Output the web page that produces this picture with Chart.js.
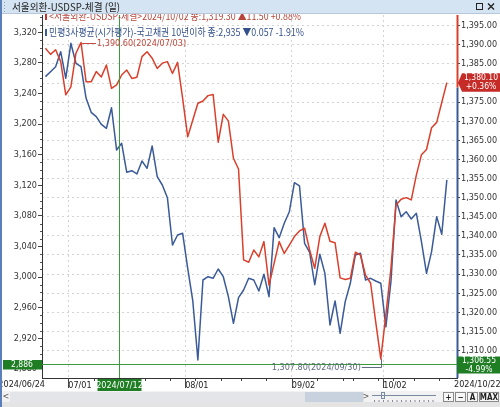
<!DOCTYPE html>
<html><head><meta charset="utf-8">
<script src="https://cdn.jsdelivr.net/npm/chart.js@4.4.1/dist/chart.umd.min.js"></script>
<style>html,body{margin:0;padding:0;background:#fff;overflow:hidden}canvas{display:block}</style>
</head><body>
<canvas id="c" width="500" height="407" style="width:500px;height:407px"></canvas>
<script>
// ---------- data ----------
const dates = ['2024/06/24','2024/06/25','2024/06/26','2024/06/27','2024/06/28',
 '2024/07/01','2024/07/02','2024/07/03','2024/07/04','2024/07/05','2024/07/08','2024/07/09','2024/07/10','2024/07/11','2024/07/12',
 '2024/07/15','2024/07/16','2024/07/17','2024/07/18','2024/07/19','2024/07/22','2024/07/23','2024/07/24','2024/07/25','2024/07/26',
 '2024/07/29','2024/07/30','2024/07/31','2024/08/01','2024/08/02','2024/08/05','2024/08/06','2024/08/07','2024/08/08','2024/08/09',
 '2024/08/12','2024/08/13','2024/08/14','2024/08/16','2024/08/19','2024/08/20','2024/08/21','2024/08/22','2024/08/23',
 '2024/08/26','2024/08/27','2024/08/28','2024/08/29','2024/08/30','2024/09/02','2024/09/03','2024/09/04','2024/09/05','2024/09/06',
 '2024/09/09','2024/09/10','2024/09/11','2024/09/12','2024/09/13','2024/09/19','2024/09/20','2024/09/23','2024/09/24','2024/09/25',
 '2024/09/26','2024/09/27','2024/09/30','2024/10/02','2024/10/04','2024/10/07','2024/10/08','2024/10/10','2024/10/11',
 '2024/10/14','2024/10/15','2024/10/16','2024/10/17','2024/10/18','2024/10/21','2024/10/22'];

const fxValues = [1389.1,1387.5,1388.7,1385.6,1376.9,1379.0,1387.8,1390.6,1380.3,1380.3,
 1383.0,1381.6,1384.7,1378.6,1379.5,1382.1,1383.4,1381.2,1381.5,1386.9,
 1388.2,1386.5,1383.8,1385.2,1385.6,1382.5,1385.4,1376.0,1365.9,1370.3,
 1374.7,1375.3,1376.7,1377.0,1364.5,1371.8,1370.1,1360.3,1357.5,1333.7,
 1333.1,1336.3,1334.5,1338.5,1327.1,1332.8,1338.5,1335.4,1337.6,1339.8,
 1341.3,1342.0,1336.3,1331.5,1339.8,1343.3,1338.6,1338.2,1329.0,1328.6,
 1328.9,1335.7,1335.0,1329.7,1327.6,1317.5,1307.8,1319.3,1331.5,1348.1,
 1349.6,1350.0,1349.4,1355.9,1361.2,1362.6,1368.3,1369.7,1374.9,1380.1];

const bondValues = [3262,3268.5,3275,3294.6,3259.9,3305.6,3279.5,3275,3233.7,3215.4,
 3209.7,3199.7,3194.5,3221.4,3166.1,3174.9,3137,3139.1,3134.8,3151.8,
 3142.2,3171.4,3131.2,3120.4,3103.8,3041.9,3055,3057.2,3011.5,2968.8,
 2891.6,2996.2,3000.5,2998.4,3010.6,3000.5,2974.4,2939.6,2973.1,2983.1,
 2998.4,2996.2,2981.8,3003.7,2974.4,3064.6,3051.5,3070.3,3085.5,3123.4,
 3119.1,3044.2,3032.4,2990,3029.8,3004.9,2937.4,2968.8,2926.5,2967.9,
 2991.9,3028.9,3031.1,2996.2,2998.4,2994.9,2992,2935,2994,3100.8,
 3079,3085.5,3076,3083.4,3046.3,3004.9,3033.2,3079,3056,3127];

const leftTicks = [2880,2920,2960,3000,3040,3080,3120,3160,3200,3240,3280,3320];
const rightTicks = [1310,1315,1320,1325,1330,1335,1340,1345,1350,1355,1360,1365,1370,1375,1380,1385,1390,1395];
const majorDates = ['2024/07/01','2024/08/01','2024/09/02','2024/10/02'];
const crossDate = '2024/07/12';
const crossLeftValue = 2886;
const crossRightLabel = ['1,306.55','-4.99%'];
const lastFxLabel = ['1,380.10','+0.36%'];

const titleText = '서울외환-USDSP-체결 (일)';
const legend1 = '<서울외환-USDSP-체결>2024/10/02 종:1,319.30 ▲11.50 +0.88%';
const legend2 = '민평3사평균(시가평가)-국고채권 10년이하 종:2,935 ▼0.057 -1.91%';

// ---------- fonts ----------
function hasFont(name){
  const c=document.createElement('canvas').getContext('2d');
  const t='0123456789,./abcMWil';
  c.font='40px monospace'; const a=c.measureText(t).width;
  c.font='40px "'+name+'", monospace'; const b=c.measureText(t).width;
  c.font='40px serif'; const a2=c.measureText(t).width;
  c.font='40px "'+name+'", serif'; const b2=c.measureText(t).width;
  return (a!==b)||(a2!==b2);
}
let NARROW='"Liberation Sans"', NSIZE=9;
if(hasFont('Liberation Sans Narrow')){NARROW='"Liberation Sans Narrow"';NSIZE=10;}
else if(hasFont('DejaVu Sans Condensed')){NARROW='"DejaVu Sans Condensed"';NSIZE=9;}
const CJK='"Noto Sans CJK KR","Noto Sans",sans-serif';

const RED='#d9402c', BLUE='#3a5a98', GREEN='#1f7d24', XGREEN='#3b9a3b';

function fitText(c,txt,x,y,w){ c.fillText(txt,x,y,w); }

const deco = {
  id:'deco',
  afterDraw(chart){
    const c=chart.ctx, ca=chart.chartArea, X=chart.scales.x, L=chart.scales.yL, R=chart.scales.yR;
    c.save();
    // minor left ticks
    c.strokeStyle='#555'; c.lineWidth=1;
    for(let k=0;k<leftTicks.length;k++){
      for(let m=1;m<4;m++){
        const v=leftTicks[k]+m*10; if(v>3340) continue;
        const y=Math.round(L.getPixelForValue(v))+0.5;
        c.beginPath(); c.moveTo(ca.left-2,y); c.lineTo(ca.left,y); c.stroke();
      }
    }
    // x major ticks + minor weekly ticks
    c.strokeStyle='#444';
    majorDates.forEach(d=>{
      const x=Math.round(X.getPixelForValue(dates.indexOf(d)-0.5))+0.5;
      c.beginPath(); c.moveTo(x,ca.bottom); c.lineTo(x,ca.bottom+10); c.stroke();
    });
    for(let i=1;i<dates.length;i++){
      const d0=new Date(dates[i-1].replace(/\//g,'-')), d1=new Date(dates[i].replace(/\//g,'-'));
      if(d1.getDay()<=d0.getDay() && majorDates.indexOf(dates[i])<0){
        const x=Math.round(X.getPixelForValue(i-0.5))+0.5;
        c.beginPath(); c.moveTo(x,ca.bottom+1); c.lineTo(x,ca.bottom+3); c.stroke();
      }
    }
    // right axis two-tone line
    const lastIdx=fxValues.length-1;
    const ry=R.getPixelForValue(fxValues[lastIdx]);
    c.lineWidth=2;
    c.strokeStyle=RED; c.beginPath(); c.moveTo(ca.right+0.5,ca.top); c.lineTo(ca.right+0.5,ry+5); c.stroke();
    c.strokeStyle=BLUE; c.beginPath(); c.moveTo(ca.right+0.5,ry+5); c.lineTo(ca.right+0.5,ca.bottom); c.stroke();

    // crosshair
    const cx=Math.round(X.getPixelForValue(dates.indexOf(crossDate)+0.5))+0.5;
    const cy=Math.round(L.getPixelForValue(crossLeftValue))+0.5;
    c.lineWidth=1; c.strokeStyle=XGREEN;
    c.beginPath(); c.moveTo(cx,ca.top); c.lineTo(cx,ca.bottom); c.stroke();
    c.beginPath(); c.moveTo(ca.left,cy); c.lineTo(ca.right,cy); c.stroke();

    // annotation: max of fx
    let mi=0, ni=0;
    fxValues.forEach((v,i)=>{ if(v>fxValues[mi]) mi=i; if(v<fxValues[ni]) ni=i; });
    const mx=X.getPixelForValue(mi), my=R.getPixelForValue(fxValues[mi]);
    c.strokeStyle='#c94a3c'; c.beginPath(); c.moveTo(mx+1,Math.round(my)+0.5); c.lineTo(mx+15,Math.round(my)+0.5); c.stroke();
    c.fillStyle='#c0473a'; c.font=NSIZE+'px '+NARROW; c.textBaseline='middle'; c.textAlign='left';
    c.fillText(fxValues[mi].toLocaleString('en-US',{minimumFractionDigits:2})+'('+dates[mi]+')', mx+16, my+1);
    // annotation: min of fx
    const nx=X.getPixelForValue(ni), ny=R.getPixelForValue(fxValues[ni]);
    const lyy=Math.round(ny+8)+0.5;
    c.strokeStyle='#5e6b80';
    c.beginPath(); c.moveTo(Math.round(nx)+0.5,ny); c.lineTo(Math.round(nx)+0.5,lyy); c.lineTo(nx-19,lyy); c.stroke();
    c.fillStyle='#5e6b80'; c.textAlign='right';
    c.fillText(fxValues[ni].toLocaleString('en-US',{minimumFractionDigits:2})+'('+dates[ni]+')', nx-20, lyy);

    // red value box (right)
    c.fillStyle='#c52b27';
    c.beginPath(); c.moveTo(ca.right+1,ry); c.lineTo(ca.right+5,ry-9.5); c.lineTo(500,ry-9.5); c.lineTo(500,ry+9); c.lineTo(ca.right+5,ry+9); c.closePath(); c.fill();
    c.fillStyle='#fff'; c.textAlign='center'; c.font=(NSIZE-0.5)+'px '+NARROW;
    c.fillText(lastFxLabel[0],481,ry-4.5); c.fillText(lastFxLabel[1],481,ry+4.5);
    // green boxes
    c.fillStyle=GREEN; c.fillRect(ca.right,cy-8,43,17);
    c.fillStyle='#fff'; c.fillText(crossRightLabel[0],479,cy-3.5); c.fillText(crossRightLabel[1],479,cy+5);
    c.fillStyle=GREEN; c.fillRect(3,cy-4.5,39,9.5);
    c.fillStyle='#fff'; c.font=(NSIZE-0.5)+'px '+NARROW; c.fillText(crossLeftValue.toLocaleString('en-US'),22,cy+0.5);
    c.fillStyle=GREEN; c.fillRect(cx-22,ca.bottom+1,44,12);
    c.fillStyle='#fff'; c.font=NSIZE+'px '+NARROW; c.fillText(crossDate,cx,ca.bottom+7.5);

    // range labels
    c.fillStyle='#222'; c.font=NSIZE+'px '+NARROW; c.textAlign='right';
    c.fillText(dates[0],ca.left+3,ca.bottom+7);
    c.textAlign='left'; c.fillText(dates[lastIdx],ca.right-3,ca.bottom+7);

    // legend texts
    c.font='10px '+CJK; c.textAlign='left'; c.textBaseline='middle';
    c.fillStyle='#c8322a'; c.fillRect(45,13,2,7);
    c.fillStyle='#b8453b'; fitText(c,legend1,49,16.5,252);
    c.fillStyle='#3a5a98'; c.fillRect(45,29,2,7);
    c.fillStyle='#34508a'; fitText(c,legend2,49,32.5,255);

    // title bar
    c.fillStyle='#d5e4f3'; c.fillRect(0,0,500,13);
    c.fillStyle='#b8c8da'; c.fillRect(0,13,500,1);
    c.fillStyle='#222'; c.font='10.5px '+CJK; fitText(c,titleText,12,7,108);
    c.fillStyle='#8aa'; for(let k=0;k<4;k++){ c.fillRect(4,2+k*3,1,1);} 
    c.strokeStyle='#222'; c.lineWidth=1;
    c.strokeRect(476.5,3.5,6,6);
    c.beginPath(); c.moveTo(488,3.5); c.lineTo(494,9.5); c.moveTo(494,3.5); c.lineTo(488,9.5); c.lineWidth=1.4; c.stroke();

    // bottom scroll row
    c.fillStyle='#f2f2f2'; c.fillRect(0,391,500,16);
    c.fillStyle='#e3e5e8'; c.fillRect(10,392,354,10);
    c.fillStyle='#c8d2de'; c.fillRect(305,392,58,10);
    c.fillStyle='#555'; c.font='9px '+NARROW; c.textAlign='center';
    c.fillText('<',6,397); c.fillText('>',366,397);
    c.strokeStyle='#7a8aa0'; c.lineWidth=1;
    c.beginPath(); c.moveTo(372,395.5); c.lineTo(436,395.5); c.stroke();
    c.strokeRect(381.5,392.5,3,6);
    c.fillStyle='#889';
    for(let k=0;k<14;k++){ c.fillRect(374+k*4.5,400,1,2); }
    const btns=[['+',443,11],['−',455,11],['A',467,11],['MAX',479,20]];
    btns.forEach(b=>{ c.fillStyle='#f6f6f6'; c.fillRect(b[1],392,b[2],10); c.strokeStyle='#8a8a8a'; c.strokeRect(b[1]+0.5,392.5,b[2]-1,9);
      c.fillStyle='#222'; c.font='bold 8px '+NARROW; c.fillText(b[0],b[1]+b[2]/2,397.5); });
    c.fillStyle='#e4e4e4'; c.fillRect(0,402,500,5);
    // window left border
    c.fillStyle='#5b7fb9'; c.fillRect(0,0,2,407);
    c.restore();
  }
};

const ptsFx = fxValues.map((v,i)=>({x:i,y:v}));
const ptsBond = bondValues.map((v,i)=>({x:i,y:v}));

new Chart(document.getElementById('c'),{
  type:'line',
  data:{datasets:[
    {label:'민평3사평균(시가평가)-국고채권 10년이하',data:ptsBond,yAxisID:'yL',borderColor:BLUE,borderWidth:1.5,pointRadius:0,tension:0,borderJoinStyle:'round',order:2},
    {label:'서울외환-USDSP-체결',data:ptsFx,yAxisID:'yR',borderColor:RED,borderWidth:1.5,pointRadius:0,tension:0,borderJoinStyle:'round',order:1}
  ]},
  options:{
    responsive:false, animation:false, devicePixelRatio:1,
    layout:{padding:{top:15,left:0,right:0,bottom:0}},
    plugins:{legend:{display:false},tooltip:{enabled:false},title:{display:false}},
    scales:{
      x:{type:'linear',position:'bottom',min:-0.68,max:81.0,
        afterBuildTicks(s){ s.ticks = majorDates.map(d=>({value:dates.indexOf(d)-0.5})); },
        afterFit(s){ s.height=29; s.paddingLeft=0; s.paddingRight=0; },
        ticks:{align:'start',maxRotation:0,autoSkip:false,padding:2,color:'#222',font:{family:NARROW,size:NSIZE},
          callback(v){ return dates[Math.round(v+0.5)].slice(5); }},
        grid:{drawTicks:false,color:'#d4d4d4',lineWidth:1},
        border:{display:true,color:'#333',dash:[2,3]}
      },
      yL:{type:'linear',position:'left',min:2868.1,max:3342.6,
        afterBuildTicks(s){ s.ticks = leftTicks.map(v=>({value:v})); },
        afterFit(s){ s.width=42; s.paddingTop=0; s.paddingBottom=0; },
        ticks:{padding:1,color:'#333',font:{family:NARROW,size:NSIZE},callback(v){return v.toLocaleString('en-US');}},
        grid:{drawOnChartArea:false,tickLength:4,tickColor:'#444'},
        border:{display:true,color:'#333'}
      },
      yR:{type:'linear',position:'right',min:1302.8,max:1397.8,
        afterBuildTicks(s){ s.ticks = rightTicks.map(v=>({value:v})); },
        afterFit(s){ s.width=43; s.paddingTop=0; s.paddingBottom=0; },
        ticks:{padding:1,color:'#333',font:{family:NARROW,size:NSIZE},callback(v){return v.toLocaleString('en-US',{minimumFractionDigits:2,maximumFractionDigits:2});}},
        grid:{drawOnChartArea:true,tickLength:3,color:'#d4d4d4',tickColor:'#444'},
        border:{display:false,dash:[2,3]}
      }
    }
  },
  plugins:[deco]
});
</script>
</body></html>
